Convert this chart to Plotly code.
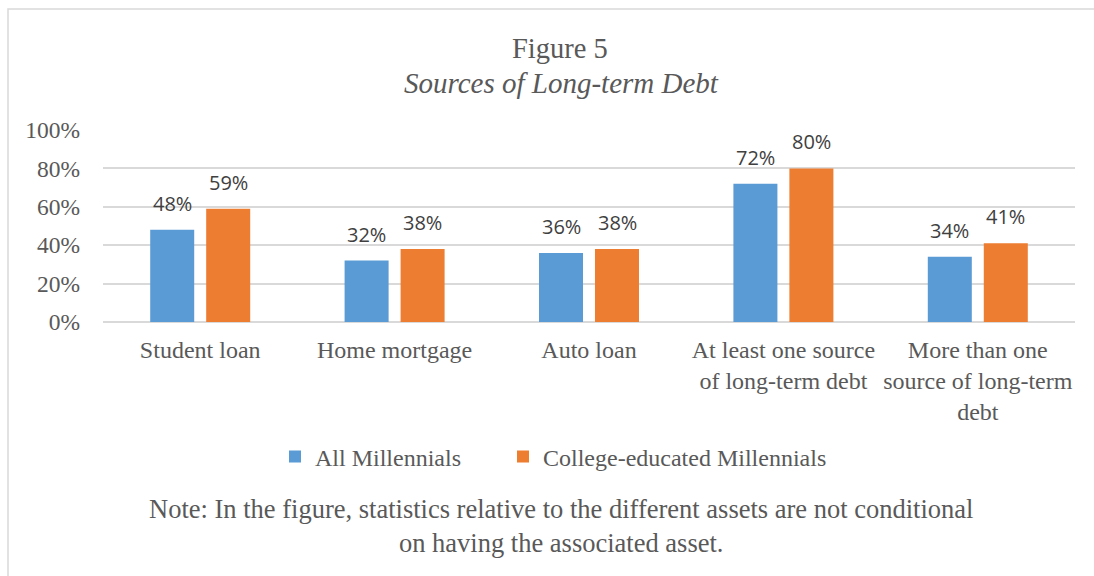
import plotly.graph_objects as go

categories = ["Student loan", "Home mortgage", "Auto loan",
              "At least one source<br>of long-term debt",
              "More than one<br>source of long-term<br>debt"]
all_mill = [48, 32, 36, 72, 34]
college_mill = [59, 38, 38, 80, 41]
series_names = ["All Millennials", "College-educated Millennials"]
tick_vals = [0, 20, 40, 60, 80, 100]
tick_text = ["0%", "20%", "40%", "60%", "80%", "100%"]

W, H = 1094, 576
L, R, T, B = 103, 19, 130, 254
pw, ph = W - L - R, H - T - B

def px(x):
    return (x - L) / pw

def py(y):
    return (H - B - y) / ph

serif = "Liberation Serif, Times New Roman, serif"
sans = "Open Sans, sans-serif"
grey = "#595959"
colors = ["#5B9BD5", "#ED7D31"]
legend_ids = ["legend", "legend2"]

fig = go.Figure()
for name, vals, col, lg in zip(series_names, [all_mill, college_mill], colors, legend_ids):
    fig.add_trace(go.Bar(x=categories, y=vals, name=name, legend=lg,
                         marker=dict(color=col, line=dict(width=0))))

annotations = []
for vals, shift in [(all_mill, -28), (college_mill, 28)]:
    for c, v in zip(categories, vals):
        annotations.append(dict(x=c, y=v, xref="x", yref="y", text=f"{v}%",
                                showarrow=False, xanchor="center", yanchor="bottom",
                                xshift=shift, yshift=11,
                                font=dict(family=sans, size=20, color="#404040")))

annotations += [
    dict(text="Figure 5", x=px(560), y=py(48), xref="paper", yref="paper",
         showarrow=False, xanchor="center", yanchor="middle",
         font=dict(family=serif, size=28.5, color=grey)),
    dict(text="<i>Sources of Long-term Debt</i>", x=px(561), y=py(83), xref="paper", yref="paper",
         showarrow=False, xanchor="center", yanchor="middle",
         font=dict(family=serif, size=29, color=grey)),
    dict(text="Note: In the figure, statistics relative to the different assets are not conditional<br>on having the associated asset.",
         x=px(561), y=py(526), xref="paper", yref="paper",
         showarrow=False, xanchor="center", yanchor="middle", align="center",
         font=dict(family=serif, size=26.5, color=grey)),
]

legend_style = dict(orientation="h", xanchor="left", yanchor="middle", y=py(457),
                    font=dict(family=serif, size=24, color=grey), itemwidth=30,
                    bgcolor="rgba(0,0,0,0)")

fig.update_layout(
    width=W, height=H,
    margin=dict(l=L, r=R, t=T, b=B),
    paper_bgcolor="white", plot_bgcolor="white",
    barmode="group", bargap=0.424, bargroupgap=0.214,
    showlegend=True,
    legend=dict(x=px(275), **legend_style),
    legend2=dict(x=px(503), **legend_style),
    xaxis=dict(showgrid=False, showline=False, tickfont=dict(family=serif, size=24, color=grey),
               ticks="", ticklabelstandoff=11),
    yaxis=dict(range=[0, 100], tickvals=tick_vals, ticktext=tick_text,
               showgrid=True, gridcolor="#D9D9D9", gridwidth=1.5,
               zeroline=True, zerolinecolor="#D9D9D9", zerolinewidth=1.5,
               showline=False, tickfont=dict(family=serif, size=23.5, color=grey),
               ticklabelstandoff=22),
    shapes=[dict(type="rect", xref="paper", yref="paper",
                 x0=px(8), x1=px(1110), y0=py(600), y1=py(9),
                 line=dict(color="#D9D9D9", width=1.5), layer="below")],
    annotations=annotations,
)

fig.write_html("out.html")
